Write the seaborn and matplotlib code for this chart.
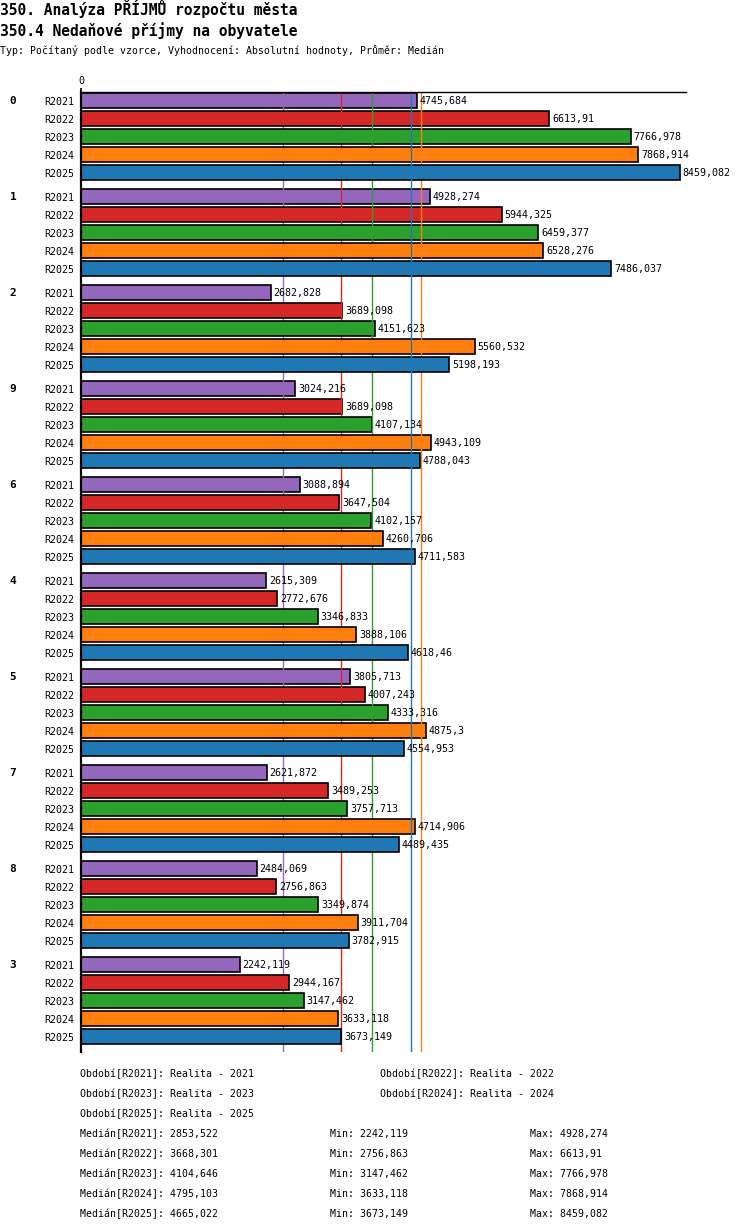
import pandas as pd
import numpy as np
import matplotlib
matplotlib.use('Agg')
import matplotlib.pyplot as plt
import matplotlib.transforms as mtransforms
import seaborn as sns

# Data
groups = ['0', '1', '2', '9', '6', '4', '5', '7', '8', '3']
periods = ['R2021', 'R2022', 'R2023', 'R2024', 'R2025']
colors = ['#9467bd', '#d62728', '#2ca02c', '#ff7f0e', '#1f77b4']

r2021 = [4745.684, 4928.274, 2682.828, 3024.216, 3088.894, 2615.309, 3805.713, 2621.872, 2484.069, 2242.119]
r2022 = [6613.91, 5944.325, 3689.098, 3689.098, 3647.504, 2772.676, 4007.243, 3489.253, 2756.863, 2944.167]
r2023 = [7766.978, 6459.377, 4151.623, 4107.134, 4102.157, 3346.833, 4333.316, 3757.713, 3349.874, 3147.462]
r2024 = [7868.914, 6528.276, 5560.532, 4943.109, 4260.706, 3888.106, 4875.3, 4714.906, 3911.704, 3633.118]
r2025 = [8459.082, 7486.037, 5198.193, 4788.043, 4711.583, 4618.46, 4554.953, 4489.435, 3782.915, 3673.149]

medians = [2853.522, 3668.301, 4104.646, 4795.103, 4665.022]
mins = [2242.119, 2756.863, 3147.462, 3633.118, 3673.149]
maxs = [4928.274, 6613.91, 7766.978, 7868.914, 8459.082]
period_names = ['Realita - 2021', 'Realita - 2022', 'Realita - 2023', 'Realita - 2024', 'Realita - 2025']

title1 = '350. Analýza PŘÍJMŮ rozpočtu města'
title2 = '350.4 Nedaňové příjmy na obyvatele'
subtitle = 'Typ: Počítaný podle vzorce, Vyhodnocení: Absolutní hodnoty, Průměr: Medián'


def fmt(v):
    return str(v).replace('.', ',')


series = [r2021, r2022, r2023, r2024, r2025]
rows = []
for p, vals in zip(periods, series):
    for g, v in zip(groups, vals):
        rows.append({'group': g, 'period': p, 'value': v})
df = pd.DataFrame(rows)

sns.set_style('white')
plt.rcParams['font.family'] = ['DejaVu Sans Mono', 'DejaVu Sans']
plt.rcParams['text.color'] = 'black'
plt.rcParams['xtick.color'] = 'black'
plt.rcParams['ytick.color'] = 'black'
plt.rcParams['axes.edgecolor'] = 'black'

W, H = 750, 1232
fig = plt.figure(figsize=(W / 100, H / 100), dpi=100)
ax = fig.add_axes([81 / W, 1 - 1052 / H, 605 / W, 960 / H])

sns.barplot(data=df, x='value', y='group', hue='period', order=groups,
            hue_order=periods, palette=colors, width=0.9375, gap=0.17,
            edgecolor='black', linewidth=1.2, orient='h', legend=False,
            errorbar=None, saturation=1, ax=ax)

# bars and median lines stacked series by series
for i, cont in enumerate(ax.containers):
    for patch in cont:
        patch.set_zorder(2 + 2 * i)
    ax.axvline(medians[i], color=colors[i], lw=1.0, zorder=3 + 2 * i)
    ax.bar_label(cont, labels=[fmt(v) for v in series[i]], padding=2,
                 fontsize=7.2, zorder=20)

ax.set_xlim(0, 8544)
ax.set_ylim(9.535, -0.465)

slot = 0.9375 / 5
ticks, labels = [], []
for gi in range(len(groups)):
    for pi, p in enumerate(periods):
        ticks.append(gi + (pi - 2) * slot)
        labels.append(p)
ax.set_yticks(ticks)
ax.set_yticklabels(labels, fontsize=7.2)
ax.tick_params(axis='y', length=0, pad=5)

ax.xaxis.tick_top()
ax.set_xticks([0])
ax.set_xticklabels(['0'], fontsize=7.2)
ax.tick_params(axis='x', length=3, width=1.2, pad=1)
ax.set_xlabel('')
ax.set_ylabel('')

for side in ['right', 'bottom']:
    ax.spines[side].set_visible(False)
ax.spines['top'].set_linewidth(1.0)
ax.spines['left'].set_linewidth(1.6)
ax.spines['top'].set_zorder(30)
ax.spines['left'].set_zorder(30)

trans = mtransforms.blended_transform_factory(fig.transFigure, ax.transData)
for gi, g in enumerate(groups):
    ax.text(13 / W, gi - 2 * slot, g, transform=trans, ha='center', va='center',
            fontsize=8, fontweight='bold')

fig.text(0, 1 - 15 / H, title1, fontsize=10.5, fontweight='bold', va='baseline')
fig.text(0, 1 - 36 / H, title2, fontsize=10.5, fontweight='bold', va='baseline')
fig.text(0, 1 - 51 / H, subtitle, fontsize=7.1, va='center')

# period legend
legend_pos = [(80, 1074), (380, 1074), (80, 1094), (380, 1094), (80, 1114)]
for (px, py), p, name in zip(legend_pos, periods, period_names):
    fig.text(px / W, 1 - py / H, f'Období[{p}]: {name}', fontsize=7.1, va='center')

# median / min / max table
for i, p in enumerate(periods):
    py = 1134 + 20 * i
    fig.text(80 / W, 1 - py / H, f'Medián[{p}]: {fmt(medians[i])}', fontsize=7.1, va='center')
    fig.text(330 / W, 1 - py / H, f'Min: {fmt(mins[i])}', fontsize=7.1, va='center')
    fig.text(530 / W, 1 - py / H, f'Max: {fmt(maxs[i])}', fontsize=7.1, va='center')

fig.savefig('out.png', dpi=100)
